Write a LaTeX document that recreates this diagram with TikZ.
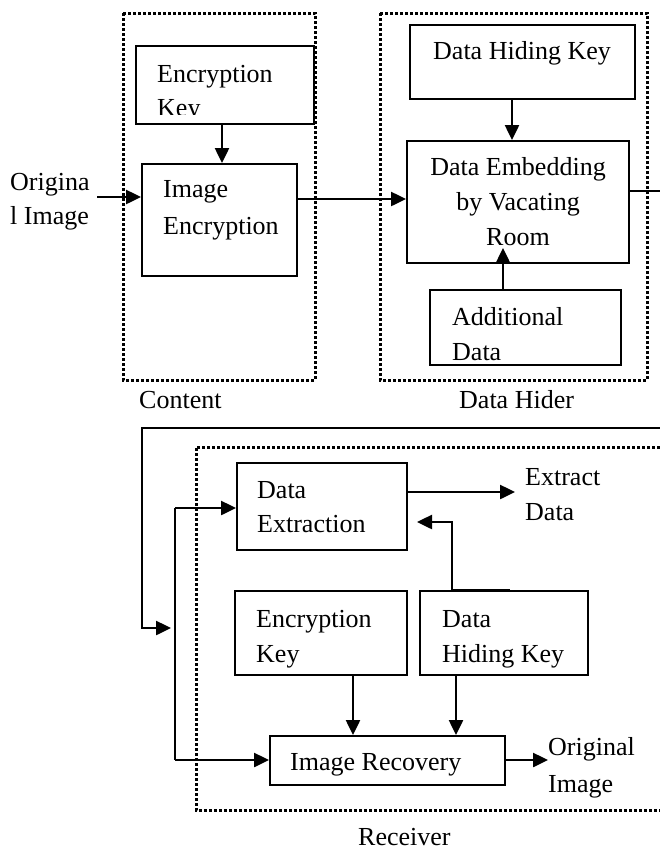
\documentclass[tikz,border=0pt]{standalone}
\usepackage{fontspec}
\setmainfont{Liberation Serif}
\usetikzlibrary{arrows.meta}
\tikzset{
  blk/.style={draw, line width=2pt, inner sep=0pt, rectangle},
  txt/.style={inner sep=0pt, anchor=base west, font=\fontsize{26}{34}\selectfont},
  ctxt/.style={txt, anchor=base},
  wire/.style={line width=2.5pt},
  arr/.style={wire, -{Triangle[length=15pt,width=14pt]}},
  zone/.style={line width=3pt, dash pattern=on 2.6pt off 2.4pt}
}
\begin{document}
\begin{tikzpicture}[x=1pt, y=-1pt]
\useasboundingbox (0,0) rectangle (660,852);

% ---------- dotted regions ----------
\draw[zone] (123,13) rectangle (315,380);
\draw[zone] (380,13) rectangle (647,380);
\draw[zone] (660,447) -- (196,447) -- (196,810) -- (660,810);

% ---------- content owner ----------
\node[blk, minimum width=178pt, minimum height=78pt] (enckeyA) at (225,85) {};
\node[blk, minimum width=155pt, minimum height=112pt] (imgenc) at (219.5,220) {};
\node[txt] (tEncA) at (157,82) {Encryption};
\begin{scope}
  \clip (136,46) rectangle (314,114.5);
  \node[txt] (tKeyA) at (157,116) {Key};
\end{scope}
\node[txt] (tImg) at (163,197) {Image};
\node[txt] (tEnc) at (163,234) {Encryption};
\node[txt] (tOrigA) at (10,190) {Origina};
\node[txt] (tOrigB) at (10,224) {l Image};
\node[txt] (lblContent) at (139,408) {Content};

% ---------- data hider ----------
\node[blk, minimum width=225pt, minimum height=74pt] (dhkA) at (522.5,62) {};
\node[blk, minimum width=222pt, minimum height=122pt] (embed) at (518,202) {};
\node[blk, minimum width=191pt, minimum height=75pt] (adddata) at (525.5,327.5) {};
\node[ctxt] (tDhk) at (522,59) {Data Hiding Key};
\node[ctxt] (tEmbA) at (518,175) {Data Embedding};
\node[ctxt] (tEmbB) at (518,210) {by Vacating};
\node[ctxt] (tEmbC) at (518,245) {Room};
\node[txt] (tAddA) at (452,325) {Additional};
\node[txt] (tAddB) at (452,360) {Data};
\node[txt] (lblHider) at (459,408) {Data Hider};

% ---------- receiver ----------
\node[blk, minimum width=170pt, minimum height=87pt] (dataext) at (322,506.5) {};
\node[blk, minimum width=172pt, minimum height=84pt] (enckeyB) at (321,633) {};
\node[blk, minimum width=168pt, minimum height=84pt] (dhkB) at (504,633) {};
\node[blk, minimum width=235pt, minimum height=49pt] (imgrec) at (387.5,760.5) {};
\node[txt] (tExtA) at (257,498) {Data};
\node[txt] (tExtB) at (257,532) {Extraction};
\node[txt] (tOutA) at (525,485) {Extract};
\node[txt] (tOutB) at (525,520) {Data};
\node[txt] (tEncB) at (256,627) {Encryption};
\node[txt] (tKeyB) at (256,662) {Key};
\node[txt] (tDhkB1) at (442,627) {Data};
\node[txt] (tDhkB2) at (442,662) {Hiding Key};
\node[txt] (tRec) at (290,770) {Image Recovery};
\node[txt] (tResA) at (548,755) {Original};
\node[txt] (tResB) at (548,792) {Image};
\node[txt] (lblRecv) at (358,845) {Receiver};

% ---------- connectors: content owner ----------
\coordinate (srcIn) at (97,197);
\draw[arr] (srcIn) -- (srcIn -| imgenc.west);
\draw[arr] (222,0 |- enckeyA.south) -- (222,0 |- imgenc.north);
\draw[arr] (imgenc.east |- 0,199) -- (embed.west |- 0,199);

% ---------- connectors: data hider ----------
\draw[arr] (512,0 |- dhkA.south) -- (512,0 |- embed.north);
\draw[arr, shorten >=-16pt] (503,0 |- adddata.north) -- (503,0 |- embed.south);
\coordinate (outR) at (660,191);
\draw[wire] (embed.east |- outR) -- (outR);

% ---------- connectors: receiver ----------
\coordinate (inR) at (660,428);
\coordinate (busTop) at (175,508);
\coordinate (busBot) at (175,760);
\coordinate (busMid) at (171,628);
\draw[arr] (inR) -| (142,628) -- (busMid);
\draw[wire] (busTop) -- (busBot);
\draw[arr] (busTop) -- (busTop -| dataext.west);
\draw[arr] (busBot) -- (busBot -| imgrec.west);
\draw[arr] (dataext.east |- 0,492) -- (515,492);
\draw[arr, shorten >=9pt] (510,0 |- dhkB.north) -- (452,0 |- dhkB.north) -- (452,522) -- (dataext.east |- 0,522);
\draw[arr] (353,0 |- enckeyB.south) -- (353,0 |- imgrec.north);
\draw[arr] (456,0 |- dhkB.south) -- (456,0 |- imgrec.north);
\draw[arr] (imgrec.east |- 0,760) -- (tResA.west |- 0,760);
\end{tikzpicture}
\end{document}
